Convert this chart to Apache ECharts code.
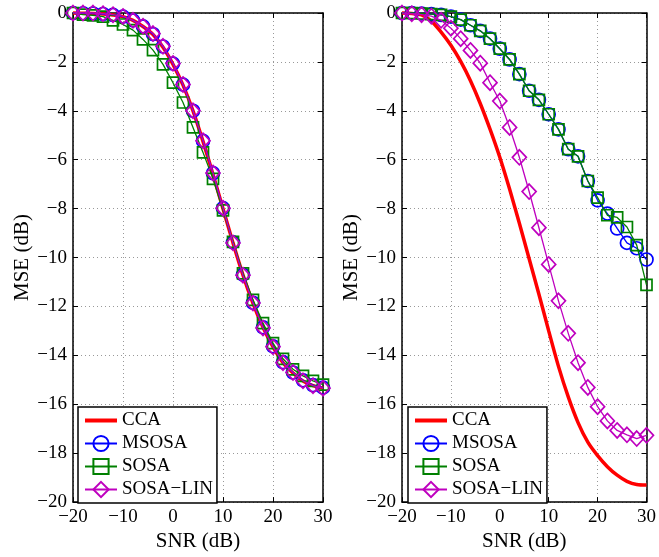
<!DOCTYPE html>
<html>
<head>
<meta charset="utf-8">
<script src="https://cdn.jsdelivr.net/npm/echarts@6/dist/echarts.min.js"></script>
<style>html,body{margin:0;padding:0;background:#fff}#c{width:659px;height:557px}</style>
</head>
<body>
<div id="c"></div>
<script>
const snr = [-20,-18,-16,-14,-12,-10,-8,-6,-4,-2,0,2,4,6,8,10,12,14,16,18,20,22,24,26,28,30];
const seriesNames = ['CCA','MSOSA','SOSA','SOSA\u2212LIN'];
const xTicks = [-20,-10,0,10,20,30];
const yTicks = [0,-2,-4,-6,-8,-10,-12,-14,-16,-18,-20];

// left panel
const ccaL    = [0,-0.01,-0.02,-0.04,-0.08,-0.15,-0.3,-0.55,-0.88,-1.4,-2.1,-2.95,-4.0,-5.25,-6.6,-8.0,-9.4,-10.72,-11.87,-12.85,-13.65,-14.3,-14.72,-15.05,-15.24,-15.34];
const msosaL  = [0,-0.01,-0.02,-0.04,-0.08,-0.15,-0.3,-0.55,-0.86,-1.37,-2.07,-2.93,-4.0,-5.23,-6.55,-7.98,-9.38,-10.7,-11.85,-12.85,-13.63,-14.28,-14.7,-15.02,-15.22,-15.32];
const sosaL   = [0,-0.07,-0.1,-0.15,-0.3,-0.47,-0.7,-1.08,-1.52,-2.1,-2.85,-3.66,-4.68,-5.7,-6.78,-8.07,-9.36,-10.65,-11.73,-12.68,-13.5,-14.14,-14.57,-14.84,-15.04,-15.2];
const sosalinL= [0,0,0,-0.03,-0.07,-0.14,-0.3,-0.54,-0.84,-1.36,-2.06,-2.92,-4.0,-5.22,-6.54,-7.98,-9.4,-10.72,-11.86,-12.88,-13.65,-14.3,-14.7,-15.04,-15.24,-15.34];

// right panel
const ccaR    = [0,-0.02,-0.08,-0.33,-0.78,-1.32,-1.98,-2.77,-3.7,-4.75,-5.9,-7.2,-8.6,-10.05,-11.5,-13.0,-14.45,-15.7,-16.75,-17.55,-18.1,-18.55,-18.9,-19.15,-19.28,-19.3];
const msosaR  = [0,0,-0.02,-0.05,-0.08,-0.15,-0.27,-0.5,-0.73,-1.05,-1.46,-1.9,-2.5,-3.18,-3.55,-4.14,-4.76,-5.57,-5.86,-6.87,-7.66,-8.2,-8.81,-9.4,-9.62,-10.08];
const sosaR   = [0,0,-0.02,-0.05,-0.08,-0.15,-0.27,-0.5,-0.73,-1.05,-1.46,-1.9,-2.5,-3.18,-3.55,-4.14,-4.76,-5.57,-5.86,-6.87,-7.55,-8.27,-8.36,-8.75,-9.49,-11.12];
const sosalinR= [0,-0.03,-0.07,-0.13,-0.3,-0.62,-1.05,-1.53,-2.05,-2.85,-3.6,-4.68,-5.9,-7.3,-8.78,-10.28,-11.77,-13.1,-14.3,-15.31,-16.1,-16.68,-17.07,-17.25,-17.4,-17.27];

const FONT = 'Liberation Serif';
const fmt = v => v < 0 ? '\u2212' + Math.abs(v) : String(v);
const pairs = arr => snr.map((x, i) => [x, arr[i]]);

const styles = [
  {color:'#ff0000', symbol:'none', size:0, width:3.5},
  {color:'#0000ff', symbol:'circle', size:13, width:1.3},
  {color:'#008000', symbol:'rect', size:11, width:1.3},
  {color:'#bf00bf', symbol:'diamond', size:[14,15], width:1.3}
];

const grids = [
  {left:73, top:13, width:250, height:493},
  {left:402, top:13, width:250, height:493}
];

const xAxes = [], yAxes = [];
grids.forEach((g, gi) => {
  const common = {min:-20, max:30, interval:10, gridIndex:gi,
    axisLine:{show:true, onZero:false, lineStyle:{color:'#000', width:1.5}},
    axisTick:{show:true, inside:true, length:5, lineStyle:{color:'#000', width:1}}};
  xAxes.push(Object.assign({}, common, {type:'value', position:'bottom',
    name:'SNR (dB)', nameLocation:'middle', nameGap:25,
    nameTextStyle:{fontFamily:FONT, fontSize:21, color:'#000'},
    axisLabel:{fontFamily:FONT, fontSize:19, color:'#000', margin:5, formatter:fmt},
    splitLine:{show:true, lineStyle:{type:[1,3], color:'#999', width:1}}}));
  xAxes.push(Object.assign({}, common, {type:'value', position:'top',
    axisLabel:{show:false}, splitLine:{show:false}}));
  const ycommon = {min:-20, max:0, interval:2, gridIndex:gi,
    axisLine:{show:true, onZero:false, lineStyle:{color:'#000', width:1.5}},
    axisTick:{show:true, inside:true, length:5, lineStyle:{color:'#000', width:1}}};
  yAxes.push(Object.assign({}, ycommon, {type:'value', position:'left',
    name:'MSE (dB)', nameLocation:'middle', nameGap:40,
    nameTextStyle:{fontFamily:FONT, fontSize:21, color:'#000'},
    axisLabel:{fontFamily:FONT, fontSize:19, color:'#000', margin:6, formatter:fmt},
    splitLine:{show:true, lineStyle:{type:[1,3], color:'#999', width:1}}}));
  yAxes.push(Object.assign({}, ycommon, {type:'value', position:'right',
    axisLabel:{show:false}, splitLine:{show:false}}));
});

const dataSets = [[ccaL, msosaL, sosaL, sosalinL],[ccaR, msosaR, sosaR, sosalinR]];
const series = [];
dataSets.forEach((set, gi) => {
  set.forEach((arr, si) => {
    const s = styles[si];
    series.push({
      type:'line', name:seriesNames[si], xAxisIndex:gi*2, yAxisIndex:gi*2,
      data:pairs(arr), smooth: si === 0 ? 0.3 : false, clip:false,
      symbol:s.symbol, symbolSize:s.size, showSymbol: s.symbol !== 'none',
      lineStyle:{color:s.color, width:s.width},
      itemStyle:{color: si === 0 ? s.color : 'rgba(0,0,0,0)', borderColor:s.color, borderWidth:1.7},
      emphasis:{disabled:true}, animation:false, z: 2 + si
    });
  });
});

const legendData = seriesNames.map((n, i) => i === 0
  ? {name:n, itemStyle:{color:'rgba(0,0,0,0)', borderColor:'rgba(0,0,0,0)', borderWidth:0},
     lineStyle:{color:'#ff0000', width:4}}
  : {name:n});

const legendBase = {
  orient:'vertical', top:407, data:legendData,
  backgroundColor:'#fff', borderColor:'#000', borderWidth:1.5,
  padding:[4,4,4,5], itemWidth:32, itemHeight:19, itemGap:4,
  textStyle:{fontFamily:FONT, fontSize:19, color:'#000', lineHeight:19},
  selectedMode:false
};

const chart = echarts.init(document.getElementById('c'), null, {renderer:'canvas'});
chart.setOption({
  backgroundColor:'#fff',
  animation:false,
  grid:grids,
  xAxis:xAxes,
  yAxis:yAxes,
  legend:[Object.assign({}, legendBase, {left:78}), Object.assign({}, legendBase, {left:408})],
  series:series
});
</script>
</body>
</html>
